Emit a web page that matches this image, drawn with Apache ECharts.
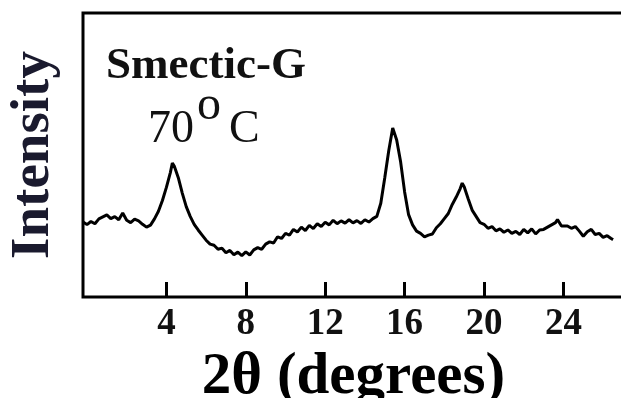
<!DOCTYPE html>
<html>
<head>
<meta charset="utf-8">
<script src="https://cdn.jsdelivr.net/npm/echarts@6/dist/echarts.min.js"></script>
<style>
  html, body { margin: 0; padding: 0; background: #fff; }
  #main { width: 621px; height: 398px; }
</style>
</head>
<body>
<div id="main"></div>
<script>
var twoTheta = [
    -0.2, 0.0, 0.2, 0.4, 0.6, 0.8, 1.0, 1.2, 1.4, 1.6, 1.8, 2.0, 2.2, 2.4, 2.6, 2.8, 3.0, 3.2, 3.4, 3.6, 3.8,
    4.0, 4.2, 4.3, 4.4, 4.6, 4.8, 5.0, 5.2, 5.4, 5.6, 5.8, 6.0, 6.2, 6.4, 6.6, 6.8, 7.0, 7.2, 7.4, 7.6, 7.8,
    8.0, 8.2, 8.4, 8.6, 8.8, 9.0, 9.2, 9.4, 9.6, 9.8, 10.0, 10.2, 10.4, 10.6, 10.8, 11.0, 11.2, 11.4, 11.6, 11.8,
    12.0, 12.2, 12.4, 12.6, 12.8, 13.0, 13.2, 13.4, 13.6, 13.8, 14.0, 14.2, 14.4, 14.6, 14.8, 15.0, 15.2, 15.4, 15.5,
    15.6, 15.8, 16.0, 16.2, 16.4, 16.6, 16.8, 17.0, 17.2, 17.4, 17.6, 17.8, 18.0, 18.2, 18.4, 18.6, 18.8, 18.9,
    19.0, 19.2, 19.4, 19.6, 19.8, 20.0, 20.2, 20.4, 20.6, 20.8, 21.0, 21.2, 21.4, 21.6, 21.8, 22.0, 22.2, 22.4,
    22.6, 22.8, 23.0, 23.2, 23.4, 23.6, 23.7, 23.9, 24.0, 24.2, 24.4, 24.6, 24.8, 25.0, 25.2, 25.4, 25.6, 25.8,
    26.0, 26.2, 26.4, 26.5
];
var intensity = [
    26.4, 25.5, 26.6, 25.8, 27.5, 28.2, 28.9, 27.6, 28.3, 27.2, 29.6, 27.0, 26.2, 27.4, 26.8, 25.6, 24.6, 25.3, 27.5, 30.2, 34.0,
    38.6, 43.8, 47.2, 46.0, 42.0, 36.6, 31.8, 28.4, 25.6, 23.6, 21.8, 20.0, 18.6, 18.2, 16.8, 17.2, 15.6, 16.4, 14.9, 15.8, 14.6,
    15.9, 14.8, 16.6, 17.4, 16.8, 18.6, 19.4, 19.0, 21.2, 20.6, 22.4, 21.8, 23.8, 22.9, 24.6, 23.4, 25.2, 24.1, 25.8, 24.8,
    26.3, 25.4, 27.0, 25.8, 26.8, 26.0, 27.2, 26.1, 26.9, 25.9, 27.2, 26.4, 27.6, 28.4, 33.0, 42.0, 51.5, 59.5, 58.8,
    55.3, 47.5, 37.0, 29.0, 25.4, 23.2, 22.4, 21.2, 21.8, 22.2, 24.4, 25.8, 27.6, 29.4, 32.6, 35.2, 38.2, 40.1,
    38.8, 34.6, 30.6, 28.4, 26.2, 25.6, 24.2, 24.8, 23.3, 24.0, 22.8, 23.6, 22.4, 23.1, 22.0, 23.8, 22.6, 24.0,
    22.2, 23.6, 23.8, 24.6, 25.4, 26.2, 27.3, 25.0, 24.4, 25.0, 24.2, 24.8, 23.2, 21.4, 23.0, 23.8, 22.0, 22.4,
    21.0, 21.6, 20.6, 20.2
];
var tickValues = [4, 8, 12, 16, 20, 24];

var chartDom = document.getElementById('main');
var myChart = echarts.init(chartDom);

var serif = '"Liberation Serif", "DejaVu Serif", serif';
var points = twoTheta.map(function (t, i) { return [t, intensity[i]]; });

var option = {
    animation: false,
    grid: {
        left: 83,
        right: -3,
        top: 13,
        bottom: 101,
        outerBoundsMode: 'none',
        containLabel: false,
        show: true,
        borderColor: '#000',
        borderWidth: 3
    },
    xAxis: {
        type: 'value',
        min: -0.2,
        max: 27.05,
        splitLine: { show: false },
        axisLine: { show: false },
        axisTick: {
            show: true,
            inside: true,
            length: 15,
            lineStyle: { color: '#000', width: 3 },
            customValues: tickValues
        },
        axisLabel: {
            customValues: tickValues,
            margin: 9,
            color: '#111',
            fontFamily: serif,
            fontWeight: 'bold',
            fontSize: 37
        },
        name: '2θ (degrees)',
        nameLocation: 'middle',
        nameGap: 46,
        nameTextStyle: {
            color: '#000',
            fontFamily: serif,
            fontWeight: 'bold',
            fontSize: 59
        }
    },
    yAxis: {
        type: 'value',
        min: 0,
        max: 100,
        splitLine: { show: false },
        axisLine: { show: false },
        axisTick: { show: false },
        axisLabel: { show: false },
        name: 'Intensity',
        nameLocation: 'middle',
        nameRotate: 90,
        nameGap: 22,
        nameTextStyle: {
            color: '#1a1a2e',
            fontFamily: serif,
            fontWeight: 'bold',
            fontSize: 55
        }
    },
    graphic: [
        {
            type: 'text',
            left: 106,
            top: 44,
            style: { text: 'Smectic-G', fill: '#111', font: 'bold 45px ' + serif }
        },
        {
            type: 'text',
            left: 148,
            top: 107,
            style: { text: '70', fill: '#111', font: '46px ' + serif }
        },
        {
            type: 'text',
            left: 197,
            top: 82,
            style: { text: 'o', fill: '#111', font: '48px ' + serif }
        },
        {
            type: 'text',
            left: 229,
            top: 107,
            style: { text: 'C', fill: '#111', font: '46px ' + serif }
        }
    ],
    series: [
        {
            type: 'line',
            data: points,
            showSymbol: false,
            smooth: false,
            lineStyle: { color: '#000', width: 3 }
        }
    ]
};

myChart.setOption(option);
</script>
</body>
</html>
